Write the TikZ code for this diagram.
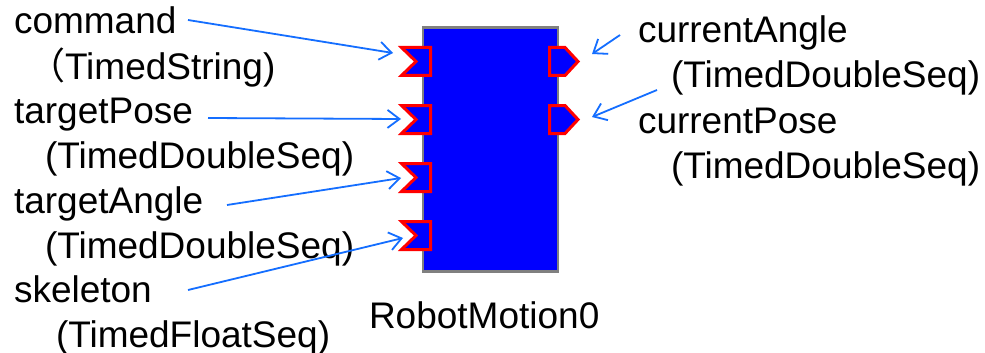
\documentclass[tikz,border=0pt]{standalone}
\usepackage{fontspec}
\setmainfont{Liberation Sans}
\newfontfamily\cjk{Noto Sans CJK JP}
\usetikzlibrary{arrows.meta}
\definecolor{linkblue}{RGB}{20,110,255}
\definecolor{portred}{RGB}{255,0,0}
\definecolor{compblue}{RGB}{0,0,255}
\definecolor{compgray}{RGB}{128,128,128}
\begin{document}
\begin{tikzpicture}[x=1pt,y=-1pt,
  lbl/.style={anchor=base west,inner sep=0pt,outer sep=0pt,
              font=\fontsize{37}{40}\selectfont},
  arr/.style={draw=linkblue,line width=1.8pt,
              -{Straight Barb[length=12pt,width=18pt,line width=1.8pt]}},
  port/.style={fill=compblue,draw=portred,line width=3pt,line join=miter}]
\useasboundingbox (0,0) rectangle (985,353);
\fill[white] (0,0) rectangle (985,353);

% component body
\node[draw=compgray,fill=compblue,line width=2.7pt,minimum width=135pt,
      minimum height=244pt,inner sep=0pt] (comp) at (490.5,149.5) {};
\node[lbl] (name) at (369,328) {RobotMotion0};

% input ports (notched) on the left side
\foreach \y/\n in {46/in1,104/in2,162/in3,220/in4}{
  \draw[port] (401.5,\y+1.5) -- (430.5,\y+1.5) -- (430.5,\y+29.5)
    -- (401.5,\y+29.5) -- (416,\y+15.5) -- cycle;
  \coordinate (\n) at (400,\y+15.5);
}
% output ports (pointed) on the right side
\foreach \y/\n in {46/out1,104/out2}{
  \draw[port] (549.5,\y+1.5) -- (565,\y+1.5) -- (578,\y+15.5)
    -- (565,\y+29.5) -- (549.5,\y+29.5) -- cycle;
  \coordinate (\n) at (580,\y+15.5);
}

% port labels
\node[lbl] (cmd)  at (14,34)  {command};
\node[lbl] (cmdT) at (28,80)  {{\cjk （}TimedString)};
\node[lbl] (tp)   at (14,123) {targetPose};
\node[lbl] (tpT)  at (45,168) {(TimedDoubleSeq)};
\node[lbl] (ta)   at (14,213) {targetAngle};
\node[lbl] (taT)  at (45,258) {(TimedDoubleSeq)};
\node[lbl] (sk)   at (14,302) {skeleton};
\node[lbl] (skT)  at (56,347) {(TimedFloatSeq)};
\node[lbl] (ca)   at (638,43)  {currentAngle};
\node[lbl] (caT)  at (671,88)  {(TimedDoubleSeq)};
\node[lbl] (cp)   at (638,133) {currentPose};
\node[lbl] (cpT)  at (671,178) {(TimedDoubleSeq)};

% arrow ends
\coordinate (cmdA) at (188,20);   \coordinate (in1A) at (393,53);
\coordinate (tpA)  at (208,118);  \coordinate (in2A) at (401,119);
\coordinate (taA)  at (227,205);  \coordinate (in3A) at (401,178);
\coordinate (skA)  at (188,290);  \coordinate (in4A) at (403,238);
\coordinate (caA)  at (620,35);   \coordinate (out1A) at (592,54);
\coordinate (cpA)  at (657,90);   \coordinate (out2A) at (592,117);

\draw[arr] (cmdA) -- (in1A);
\draw[arr] (tpA)  -- (in2A);
\draw[arr] (taA)  -- (in3A);
\draw[arr] (skA)  -- (in4A);
\draw[arr] (caA)  -- (out1A);
\draw[arr] (cpA)  -- (out2A);
\end{tikzpicture}
\end{document}
